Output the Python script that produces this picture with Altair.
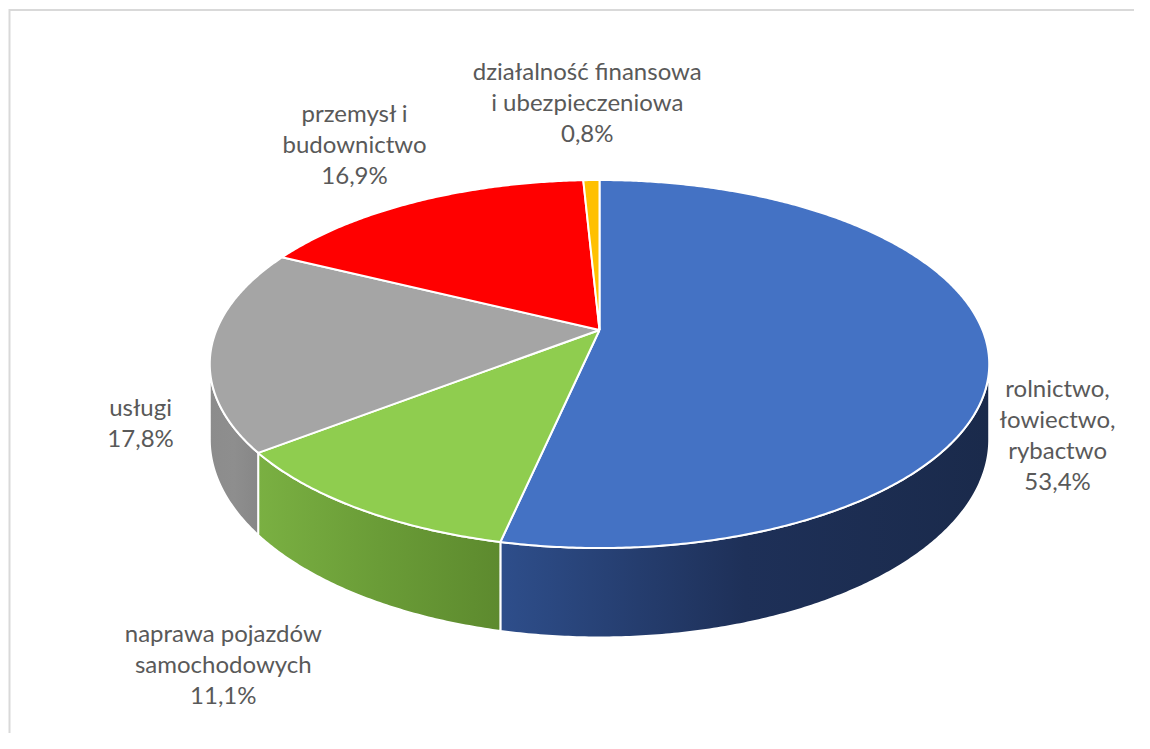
import numpy as np
import pandas as pd
import altair as alt

# ---- data ----
categories = [
    "rolnictwo,\nłowiectwo,\nrybactwo",
    "naprawa pojazdów\nsamochodowych",
    "usługi",
    "przemysł i\nbudownictwo",
    "działalność finansowa\ni ubezpieczeniowa",
]
values = [53.4, 11.1, 17.8, 16.9, 0.8]

# ---- styles ----
top_colors = ["#4472C4", "#8FCD4F", "#A5A5A5", "#FF0000", "#FFC000"]
side_colors = [
    [("#2E4E8B", 0.0), ("#1E3058", 0.5), ("#1A2A4B", 1.0)],
    [("#7AB042", 0.0), ("#6A9C37", 0.5), ("#5D8A2E", 1.0)],
    [("#8C8C8C", 0.0), ("#8E8E8E", 0.5), ("#878787", 1.0)],
    [("#B00000", 0.0), ("#800000", 1.0)],
    [("#C09000", 0.0), ("#A07000", 1.0)],
]

# ---- layout (page pixel space) ----
W, H = 1126, 725
X0, Y0 = 8, 8
CX, CY = 599.5, 330.0
RX, RY = 383.0, 177.7
PERSP = 0.185
DEPTH = 72.9
LINE_H = 31
label_r = [1.175, 1.43, 1.178, 1.421, 1.663]
label_dy = [84, 59, 73, -11, 0]
frame_x = [9.5, 9.5, X0 + W]
frame_y = [Y0 + H, 10, 10]


def proj(theta_deg, f=1.0):
    t = np.radians(theta_deg)
    u = np.sin(t) * f
    v = -np.cos(t) * f
    s = 1 - PERSP * v
    return CX + RX * u / s, CY + RY * v / s, s


def arc(a, b):
    n = max(3, int(abs(b - a) * 2) + 2)
    return np.linspace(a, b, n)


total = sum(values)
starts = np.concatenate([[0.0], np.cumsum(values)[:-1]]) / total * 360.0
ends = np.cumsum(values) / total * 360.0

sil = np.degrees(np.arccos(-PERSP))
vis_lo, vis_hi = sil, 360.0 - sil

rows = []
for k, (a, b) in enumerate(zip(starts, ends)):
    pts = [(CX, CY)]
    for t in arc(a, b):
        x, y, _ = proj(t)
        pts.append((x, y))
    pts.append((CX, CY))
    for i, (x, y) in enumerate(pts):
        rows.append({"poly": f"top{k}", "i": i, "x": x, "y": y})
    lo, hi = max(a, vis_lo), min(b, vis_hi)
    if lo < hi:
        ts = arc(lo, hi)
        top = [proj(t) for t in ts]
        pts = [(x, y) for x, y, s in top]
        pts += [(x, y + DEPTH / s) for x, y, s in reversed(top)]
        pts.append(pts[0])
        for i, (x, y) in enumerate(pts):
            rows.append({"poly": f"wall{k}", "i": i, "x": x, "y": y})
for i, (x, y) in enumerate(zip(frame_x, frame_y)):
    rows.append({"poly": "frame", "i": i, "x": x, "y": y})

df = pd.DataFrame(rows)

lab_rows = []
for k, (a, b) in enumerate(zip(starts, ends)):
    mid = (a + b) / 2
    x, y, _ = proj(mid, label_r[k])
    pct = f"{values[k]:.1f}".replace(".", ",") + "%"
    txt = categories[k] + "\n" + pct
    nlines = txt.count("\n") + 1
    lab_rows.append({"x": x, "y": y + label_dy[k] - (nlines - 1) * LINE_H / 2, "label": txt})
labels = pd.DataFrame(lab_rows)

XS = alt.Scale(domain=[X0, X0 + W], nice=False, zero=False)
YS = alt.Scale(domain=[Y0, Y0 + H], nice=False, zero=False, reverse=True)
X = alt.X("x:Q", scale=XS, axis=None)
Y = alt.Y("y:Q", scale=YS, axis=None)

layers = []
for k in range(len(values)):
    if (df["poly"] == f"wall{k}").any():
        grad = alt.LinearGradient(
            gradient="linear",
            stops=[alt.GradientStop(color=c, offset=o) for c, o in side_colors[k]],
            x1=0, x2=1, y1=0, y2=0,
        )
        layers.append(
            alt.Chart(df)
            .transform_filter(alt.datum.poly == f"wall{k}")
            .mark_line(fill=grad, stroke="white", strokeWidth=2, strokeJoin="round")
            .encode(x=X, y=Y, order=alt.Order("i:Q"))
        )
for k in range(len(values)):
    layers.append(
        alt.Chart(df)
        .transform_filter(alt.datum.poly == f"top{k}")
        .mark_line(fill=top_colors[k], stroke="white", strokeWidth=2, strokeJoin="round")
        .encode(x=X, y=Y, order=alt.Order("i:Q"))
    )

text = (
    alt.Chart(labels)
    .mark_text(lineBreak="\n", align="center", baseline="middle", font="Lato",
               fontSize=24, lineHeight=LINE_H, color="#595959")
    .encode(x=X, y=Y, text="label:N")
)
layers.append(text)

# chart frame: top and left edges, as one open polyline
layers.append(
    alt.Chart(df)
    .transform_filter(alt.datum.poly == "frame")
    .mark_line(stroke="#D9D9D9", strokeWidth=2)
    .encode(x=X, y=Y, order=alt.Order("i:Q"))
)

chart = (
    alt.layer(*layers)
    .properties(width=W, height=H, padding=0,
                autosize=alt.AutoSizeParams(type="none"))
    .configure_view(stroke="transparent", strokeWidth=0)
)

chart.save("out.html", embed_options={"renderer": "svg", "actions": False})
